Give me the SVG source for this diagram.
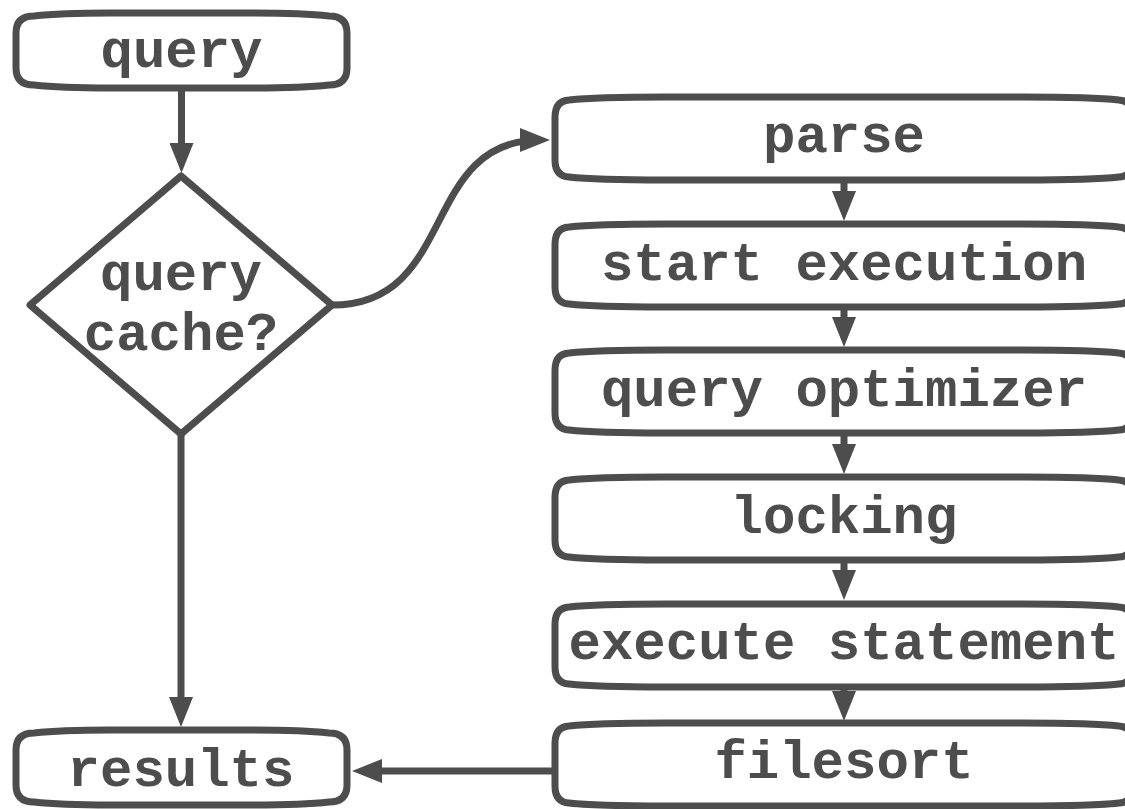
<svg xmlns="http://www.w3.org/2000/svg" xmlns:xlink="http://www.w3.org/1999/xlink" width="1125" height="809" viewBox="0 0 1125 809">
  <style>
    .shape { fill: #ffffff; stroke: #4d4d4d; stroke-width: 7; stroke-linejoin: round; }
    .conn { fill: none; stroke: #4d4d4d; stroke-width: 7; }
    .lbl { font-family: "Courier New", "Liberation Mono", monospace; font-weight: bold; font-size: 54px; fill: #4d4d4d; text-anchor: middle; }
  </style>
  <defs>
    <marker id="arrow" markerUnits="userSpaceOnUse" markerWidth="30" markerHeight="24" viewBox="0 0 30 24" refX="20" refY="12" orient="auto">
      <path d="M0,0 L30,12 L0,24 Z" fill="#4d4d4d"/>
    </marker>
    <path id="rbox" d="M555,20 Q555,4 569,3 Q595,0 665,0 L1023,0 Q1093,0 1119,3 Q1133,4 1133,20 L1133,63 Q1133,79 1119,80 Q1093,83 1023,83 L665,83 Q595,83 569,80 Q555,79 555,63 Z"/>
    <path id="lbox" d="M16,20 Q16,3 34,3 Q60,0 110,0 L253,0 Q303,0 329,3 Q347,3 347,20 L347,55 Q347,72 329,72 Q303,75 253,75 L110,75 Q60,75 34,72 Q16,72 16,55 Z"/>
  </defs>
  <rect x="0" y="0" width="1125" height="809" fill="#ffffff"/>

  <g id="connectors">
    <path class="conn" d="M181.5,88 L181.5,163" marker-end="url(#arrow)"/>
    <path class="conn" d="M181,434 L181,717" marker-end="url(#arrow)"/>
    <path class="conn" d="M332,305 C458,305 420,140 540,140" marker-end="url(#arrow)"/>
    <path class="conn" d="M844,180 L844,211" marker-end="url(#arrow)"/>
    <path class="conn" d="M844,307 L844,337" marker-end="url(#arrow)"/>
    <path class="conn" d="M844,433 L844,464" marker-end="url(#arrow)"/>
    <path class="conn" d="M844,560 L844,590" marker-end="url(#arrow)"/>
    <path class="conn" d="M844,687 L844,711" marker-end="url(#arrow)"/>
    <path class="conn" d="M555,771 L362,771" marker-end="url(#arrow)"/>
  </g>

  <g id="node-query">
    <use xlink:href="#lbox" href="#lbox" y="13" class="shape"/>
    <text class="lbl" x="181.5" y="67">query</text>
  </g>

  <g id="node-cache">
    <polygon class="shape" points="181,176 332,305 181,434 30,305"/>
    <text class="lbl" x="181" y="290">query</text>
    <text class="lbl" x="181" y="350">cache?</text>
  </g>

  <g id="node-results">
    <use xlink:href="#lbox" href="#lbox" y="730" class="shape"/>
    <text class="lbl" x="181" y="786">results</text>
  </g>

  <g id="node-parse">
    <use xlink:href="#rbox" href="#rbox" y="97" class="shape"/>
    <text class="lbl" x="844" y="152">parse</text>
  </g>

  <g id="node-start">
    <use xlink:href="#rbox" href="#rbox" y="224" class="shape"/>
    <text class="lbl" x="844" y="280">start execution</text>
  </g>

  <g id="node-optimizer">
    <use xlink:href="#rbox" href="#rbox" y="350" class="shape"/>
    <text class="lbl" x="844" y="406">query optimizer</text>
  </g>

  <g id="node-locking">
    <use xlink:href="#rbox" href="#rbox" y="477" class="shape"/>
    <text class="lbl" x="844" y="533">locking</text>
  </g>

  <g id="node-execute">
    <use xlink:href="#rbox" href="#rbox" y="604" class="shape"/>
    <text class="lbl" x="844" y="659">execute statement</text>
  </g>

  <g id="node-filesort">
    <use xlink:href="#rbox" href="#rbox" y="723" class="shape"/>
    <text class="lbl" x="844" y="778">filesort</text>
  </g>
</svg>
